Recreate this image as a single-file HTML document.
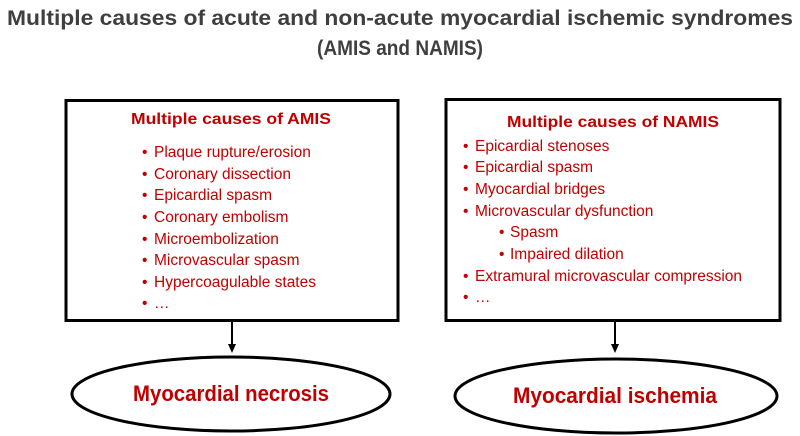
<!DOCTYPE html>
<html><head><meta charset="utf-8"><style>
html,body{margin:0;padding:0;background:#fff;}
svg{display:block;font-family:"Liberation Sans",sans-serif;}
</style></head><body>
<svg width="800" height="436" viewBox="0 0 800 436" xmlns="http://www.w3.org/2000/svg">
<g fill="#3f3f3f" font-weight="bold" font-size="21">
<text x="7" y="25" textLength="786" lengthAdjust="spacingAndGlyphs">Multiple causes of acute and non-acute myocardial ischemic syndromes</text>
<text x="317" y="55" textLength="166" lengthAdjust="spacingAndGlyphs">(AMIS and NAMIS)</text>
</g>
<rect x="66" y="100.5" width="332" height="220" fill="#fff" stroke="#000" stroke-width="3"/>
<rect x="446" y="99.5" width="334" height="221" fill="#fff" stroke="#000" stroke-width="3"/>
<g stroke="#000" stroke-width="2"><line x1="232" y1="321" x2="232" y2="345"/><line x1="615" y1="321" x2="615" y2="345"/></g>
<polygon points="228,344 236,344 232,353" fill="#000"/>
<polygon points="611,344 619,344 615,353" fill="#000"/>
<ellipse cx="231" cy="394" rx="159" ry="37" fill="#fff" stroke="#000" stroke-width="3"/>
<ellipse cx="616" cy="396" rx="161" ry="37" fill="#fff" stroke="#000" stroke-width="3"/>
<g fill="#c00000" font-weight="bold" font-size="22">
<text x="133" y="401" textLength="196" lengthAdjust="spacingAndGlyphs">Myocardial necrosis</text>
<text x="513" y="403" textLength="204" lengthAdjust="spacingAndGlyphs">Myocardial ischemia</text>
</g>
<g fill="#c00000" font-weight="bold" font-size="16">
<text x="131" y="124" textLength="200" lengthAdjust="spacingAndGlyphs">Multiple causes of AMIS</text>
<text x="507" y="127" textLength="212" lengthAdjust="spacingAndGlyphs">Multiple causes of NAMIS</text>
</g>
<g fill="#c00000" font-size="15.5">
<text x="142" y="157">•</text><text x="154" y="157">Plaque rupture/erosion</text>
<text x="142" y="179">•</text><text x="154" y="179">Coronary dissection</text>
<text x="142" y="200">•</text><text x="154" y="200">Epicardial spasm</text>
<text x="142" y="222">•</text><text x="154" y="222">Coronary embolism</text>
<text x="142" y="244">•</text><text x="154" y="244">Microembolization</text>
<text x="142" y="265">•</text><text x="154" y="265">Microvascular spasm</text>
<text x="142" y="287">•</text><text x="154" y="287">Hypercoagulable states</text>
<text x="142" y="308">•</text><text x="154" y="308">…</text>

<text x="463" y="151">•</text><text x="475" y="151">Epicardial stenoses</text>
<text x="463" y="172">•</text><text x="475" y="172">Epicardial spasm</text>
<text x="463" y="194">•</text><text x="475" y="194">Myocardial bridges</text>
<text x="463" y="216">•</text><text x="475" y="216">Microvascular dysfunction</text>
<text x="499" y="237">•</text><text x="510" y="237">Spasm</text>
<text x="499" y="259">•</text><text x="510" y="259">Impaired dilation</text>
<text x="463" y="281">•</text><text x="475" y="281">Extramural microvascular compression</text>
<text x="463" y="302">•</text><text x="475" y="302">…</text>
</g>
</svg>
</body></html>
